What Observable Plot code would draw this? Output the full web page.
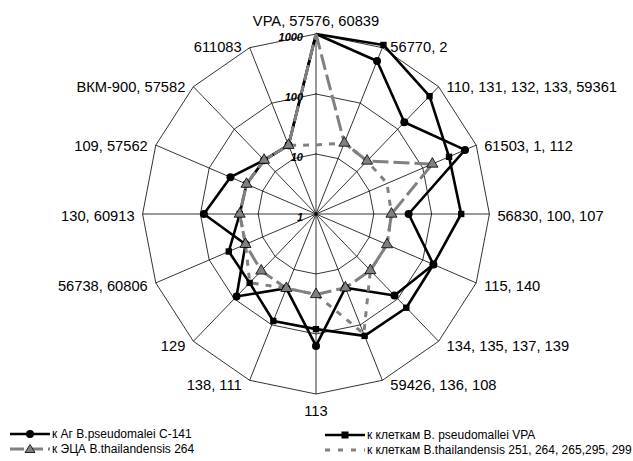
<!DOCTYPE html>
<html><head><meta charset="utf-8">
<script src="https://cdn.jsdelivr.net/npm/d3@7"></script>
<script src="https://cdn.jsdelivr.net/npm/@observablehq/plot@0.6"></script>
<style>
body{margin:0;background:#fff;font-family:Arial,"Liberation Sans",sans-serif;}
#wrap{position:relative;width:633px;height:461px;overflow:hidden;}
#wrap svg.plot{position:absolute;left:0;top:0;}
.leg{position:absolute;display:flex;align-items:center;height:16px;font-size:12px;color:#000;white-space:nowrap;}
.leg svg{display:block;margin-right:1px;overflow:visible}
</style></head><body><div id="wrap"></div>
<script>
// Categories (clockwise from top)
const categories = ["VPA, 57576, 60839","56770, 2","110, 131, 132, 133, 59361","61503, 1, 112","56830, 100, 107","115, 140","134, 135, 137, 139","59426, 136, 108","113","138, 111","129","56738, 60806","130, 60913","109, 57562","ВКМ-900, 57582","611083"];
const tickValues = [1, 10, 100, 1000];
const tickLabels = ["1", "10", "100", "1000"];
const seriesNames = ["к Аг B.pseudomalei C-141","к клеткам B. pseudomallei VPA","к ЭЦА B.thailandensis 264","к клеткам B.thailandensis 251, 264, 265,295, 299"];
// Series values (log axis 1..1000)
const agC141    = [1000, 575, 145, 617, 40, 158, 83, 21.4, 158, 21.9, 88, 20.9, 87, 40, 18.6, 17.4];
const cellsVPA  = [1000, 1120, 600, 310, 325, 158, 162, 158, 83, 85, 42, 43, 20.9, 20, 18.6, 17.4];
const ecaThai   = [1000, 19.1, 17.8, 151, 20.2, 21.4, 21.4, 21.4, 21.9, 21.9, 21.9, 20.9, 20.9, 20, 18.6, 17.4];
const cellsThai = [14.1, 19.1, 17.8, 21.4, 20.2, 21.4, 21.4, 145, 21.9, 21.9, 41.7, 20.9, 20.9, 20, 18.6, 17.4];

const N = categories.length;
const ang = i => i * 2 * Math.PI / N;
const R = Math.log10(1000);
const pt = (v, i) => { const r = Math.log10(v); return {i, x: r * Math.sin(ang(i)), y: r * Math.cos(ang(i))}; };
const closed = vals => { const p = vals.map((v, i) => pt(v, i)); p.push(p[0]); return p; };

const rings = tickValues.slice(1).flatMap(t => closed(categories.map(() => t)).map(d => ({...d, ring: t})));
const idx = d3.range(N);
const GRAY = "#808080";
const lineCommon = {x: "x", y: "y", strokeLinejoin: "round", strokeLinecap: "butt"};

const H = 425;
const cy = 213.5, ry = 180;
const plot = Plot.plot({
  width: 633, height: H,
  marginLeft: 142.1, marginRight: 633 - 488.9,
  marginTop: cy - ry, marginBottom: H - (cy + ry),
  x: {domain: [-R, R], axis: null},
  y: {domain: [-R, R], axis: null},
  style: {fontFamily: 'Arial, "Liberation Sans", sans-serif', background: "transparent", overflow: "visible"},
  marks: [
    Plot.line(rings, {x: "x", y: "y", z: "ring", stroke: "#000", strokeWidth: 0.8}),
    Plot.link(idx, {x1: 0, y1: 0, x2: i => R * Math.sin(ang(i)), y2: i => R * Math.cos(ang(i)), stroke: "#000", strokeWidth: 0.8}),
    // series lines
    Plot.line(closed(agC141), {...lineCommon, stroke: "#000", strokeWidth: 2.6}),
    Plot.line(closed(cellsVPA), {...lineCommon, stroke: "#000", strokeWidth: 2.6}),
    Plot.line(closed(ecaThai), {...lineCommon, stroke: GRAY, strokeWidth: 3, strokeDasharray: "16,5"}),
    Plot.line(closed(cellsThai), {...lineCommon, stroke: GRAY, strokeWidth: 3, strokeDasharray: "6,7"}),
    // markers
    Plot.dot(agC141.map(pt).filter(d => d.i > 0), {x: "x", y: "y", symbol: "circle", r: 4, fill: "#000", stroke: "none"}),
    Plot.dot(cellsVPA.map(pt).filter(d => d.i > 0), {x: "x", y: "y", symbol: "square", r: 3.6, fill: "#000", stroke: "none"}),
    Plot.dot(ecaThai.map(pt).filter(d => d.i > 0), {x: "x", y: "y", symbol: "triangle", r: 4.1, fill: GRAY, stroke: "#000", strokeWidth: 0.8}),
    // tick labels
    Plot.text(tickValues, {x: 0, y: v => Math.log10(v), text: (v, k) => tickLabels[k], textAnchor: "end", dx: -13, dy: 3, fontSize: 11, fontWeight: "bold", fontStyle: "italic", fill: "#000"}),
    // category labels: right side
    Plot.text(idx.filter(i => i > 0 && i < N / 2), {x: i => R * Math.sin(ang(i)), y: i => R * Math.cos(ang(i)) - (2.5 - 3 * Math.cos(ang(i))) / 60, text: i => categories[i], textAnchor: "start", dx: 8, fontSize: 14.7, fill: "#000"}),
    // left side
    Plot.text(idx.filter(i => i > N / 2), {x: i => R * Math.sin(ang(i)), y: i => R * Math.cos(ang(i)) - (2.5 - 3 * Math.cos(ang(i))) / 60, text: i => categories[i], textAnchor: "end", dx: -8, fontSize: 14.7, fill: "#000"}),
    // top & bottom
    Plot.text([0], {x: 0, y: R, text: i => categories[i], dy: -13, fontSize: 14.7, fill: "#000"}),
    Plot.text([N / 2], {x: 0, y: -R, text: i => categories[i], dy: 17.5, fontSize: 14.7, fill: "#000"})
  ]
});
plot.classList.add("plot");
const wrap = document.getElementById("wrap");
wrap.appendChild(plot);

// Legend (below the chart area)
const legendItems = [
  {name: seriesNames[0], left: 10, top: 433.5, stroke: "#000", sw: 2.6, dash: null, marker: "circle"},
  {name: seriesNames[1], left: 325, top: 435, stroke: "#000", sw: 2.6, dash: null, marker: "square"},
  {name: seriesNames[2], left: 10, top: 448.5, stroke: GRAY, sw: 3, dash: "14,5", marker: "triangle"},
  {name: seriesNames[3], left: 325, top: 450, stroke: GRAY, sw: 3, dash: "5,8", marker: null}
];
for (const it of legendItems) {
  const div = document.createElement("div");
  div.className = "leg";
  div.style.left = it.left + "px";
  div.style.top = (it.top - 8) + "px";
  let m = "";
  if (it.marker === "circle") m = '<circle cx="20" cy="8" r="4" fill="#000"/>';
  if (it.marker === "square") m = '<rect x="16.5" y="4.5" width="7" height="7" fill="#000"/>';
  if (it.marker === "triangle") m = '<path d="M20,3.5L25,11.5L15,11.5Z" fill="' + GRAY + '" stroke="#000" stroke-width="0.8"/>';
  div.innerHTML = '<svg width="41" height="16"><line x1="0" y1="8" x2="40" y2="8" stroke="' + it.stroke + '" stroke-width="' + it.sw + '"' + (it.dash ? ' stroke-dasharray="' + it.dash + '"' : '') + '/>' + m + '</svg><span>' + it.name + '</span>';
  wrap.appendChild(div);
}
</script></body></html>
